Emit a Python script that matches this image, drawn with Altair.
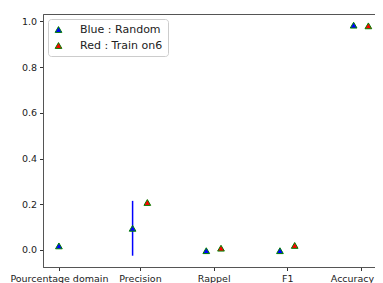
import altair as alt
import pandas as pd

categories = ["Pourcentage domain", "Precision", "Rappel", "F1", "Accuracy"]
tick_pos = [-0.1, 1, 2, 3, 4]

series_names = ["Blue : Random", "Red : Train on6"]

blue_x = [-0.1, 0.9, 1.9, 2.9, 3.9]
blue_y = [0.018, 0.095, -0.003, -0.003, 0.984]
blue_err = [0.0, 0.12, 0.0, 0.0, 0.0]

red_x = [1.1, 2.1, 3.1, 4.1]
red_y = [0.208, 0.008, 0.020, 0.981]

rows = []
for x, y, e in zip(blue_x, blue_y, blue_err):
    rows.append({"x": x, "y": y, "lo": y - e, "hi": y + e, "err": e, "series": series_names[0]})
for x, y in zip(red_x, red_y):
    rows.append({"x": x, "y": y, "lo": y, "hi": y, "err": 0.0, "series": series_names[1]})
df = pd.DataFrame(rows)

label_expr = " : ".join(
    [f"abs(datum.value - ({p})) < 0.001 ? '{c}'" for p, c in zip(tick_pos, categories)]
) + " : ''"

FS = 9.5
xscale = alt.Scale(domain=[-0.316, 4.19], nice=False, zero=False)
yscale = alt.Scale(domain=[-0.0744, 1.0328], nice=False, zero=False)

xaxis = alt.Axis(values=tick_pos, labelExpr=label_expr, title=None, grid=False,
                 labelFontSize=FS, labelColor="#222", labelFont="DejaVu Sans",
                 tickSize=3.5, tickColor="#333", domainColor="#555", labelPadding=3,
                 labelOverlap=False, labelFlush=False,
                 labelOffset=alt.expr("datum.value > 3.5 ? -9 : 0"))
yaxis = alt.Axis(values=[0, 0.2, 0.4, 0.6, 0.8, 1.0], format=".1f", title=None, grid=False,
                 labelFontSize=FS, labelColor="#222", labelFont="DejaVu Sans",
                 tickSize=3.5, tickColor="#333", domainColor="#555", labelPadding=3)

base = alt.Chart(df)

err = base.transform_filter("datum.err > 0").mark_rule(color="blue", strokeWidth=1.5).encode(
    x=alt.X("x:Q", scale=xscale, axis=xaxis),
    y=alt.Y("lo:Q", scale=yscale, axis=yaxis),
    y2="hi:Q",
)

pts = base.mark_point(shape="triangle-up", filled=True, size=45, stroke="green",
                      strokeWidth=1, opacity=1).encode(
    x=alt.X("x:Q", scale=xscale, axis=xaxis),
    y=alt.Y("y:Q", scale=yscale, axis=yaxis),
    fill=alt.Fill("series:N",
                  scale=alt.Scale(domain=series_names, range=["#0000ff", "#ff0000"]),
                  legend=alt.Legend(title=None, orient="top-left", offset=5,
                                    labelFontSize=11, labelFont="DejaVu Sans",
                                    labelColor="#222", symbolType="triangle-up",
                                    symbolSize=45, symbolStrokeColor="green",
                                    symbolStrokeWidth=1, symbolOpacity=1,
                                    fillColor="white", strokeColor="#ccc",
                                    cornerRadius=3, padding=5, rowPadding=4,
                                    labelOffset=16)),
)

chart = alt.layer(err, pts).properties(
    width=332, height=253,
    padding={"left": 35, "top": 6, "right": 0, "bottom": 20},
    autosize=alt.AutoSizeParams(type="none"),
).configure_view(stroke="#555", strokeWidth=1)

chart.save("out.html", embed_options={"renderer": "svg", "actions": False})
